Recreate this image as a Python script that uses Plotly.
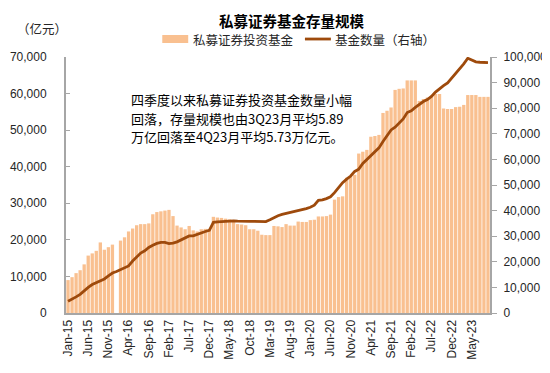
import plotly.graph_objects as go

months = ["Jan","Feb","Mar","Apr","May","Jun","Jul","Aug","Sep","Oct","Nov","Dec"]
categories = []
for y in range(15, 24):
    for m in months:
        categories.append(f"{m}-{y}")
categories = categories[:105]  # Jan-15 .. Sep-23

fund_scale = [
    9000, 9800, 10900, 11700, 13300, 15700, 16300, 17000, 19300, 17300, 18000, 18700,
    None, 19800, 20700, 22300, 23100, 24000, 24300, 24300, 24500, 27000, 27600, 27800,
    28000, 28200, 26500, 23900, 23400, 22900, 23800, 22600, 22300, 22900, 23000, 23000,
    26300, 26100, 26000, 25800, 25600, 25300, 24300, 24200, 24000, 22900, 22900, 22500,
    21400, 21300, 21300, 23800, 23700, 23500, 24300, 23900, 23900, 25000, 24900, 24900,
    25400, 25500, 26400, 26400, 26500, 26900, 31000, 31700, 31900, 37000, 37400, 37800,
    43600, 44100, 44600, 48200, 48400, 48700, 54700, 55300, 56200, 61000, 61300, 61400,
    63600, 63600, 63600, 58000, 58500, 58900, 59300, 59900, 59900, 55900, 55800, 55800,
    56300, 56400, 56900, 59600, 59600, 59600, 59100, 59100, 59100,
]

fund_count = [
    4600, 5300, 6300, 7300, 8700, 10000, 11100, 11800, 12300, 13300, 14500, 15600,
    16200, 16900, 17400, 18400, 20300, 22000, 23400, 24300, 25600, 26500, 27200, 27550,
    27550, 27100, 27300, 27800, 28600, 29500, 30100, 30150, 30800, 31400, 31850, 32300,
    35400, 35600, 35750, 35850, 35900, 36000, 35850, 35750, 35750, 35800, 35800, 35700,
    35600, 35700, 36400, 37300, 38000, 38500, 38900, 39100, 39500, 39800, 40300, 40800,
    41300, 42100, 44000, 44200, 44700, 45400, 47000, 49200, 50900, 52300, 53500, 55300,
    56200, 58400, 60000, 61700, 63000, 64500, 67000, 69500, 71500, 72600, 74300, 75800,
    78300, 79000, 80300, 81600, 82600, 83400, 84600, 86300, 87700, 88800, 89900, 91700,
    93500, 95400, 97300, 99500, 98700, 98100, 97950, 97900, 97800,
]

tick_labels = categories[::5]

left_ticks = [0, 10000, 20000, 30000, 40000, 50000, 60000, 70000]
right_ticks = [0, 10000, 20000, 30000, 40000, 50000, 60000, 70000, 80000, 90000, 100000]

series_names = ["私募证券投资基金", "基金数量（右轴）"]
title_text = "私募证券基金存量规模"
unit_text = "（亿元）"
note_lines = [
    "四季度以来私募证券投资基金数量小幅",
    "回落，存量规模也由3Q23月平均5.89",
    "万亿回落至4Q23月平均5.73万亿元。",
]

FONT = "Liberation Sans, Arial, Noto Sans CJK SC, sans-serif"
CJK = "Noto Sans CJK SC, Liberation Sans, sans-serif"
AX = "#A6A6A6"
TXT = "#262626"
BAR_C = "#F9C090"
LINE_C = "#9E4A0C"

fig = go.Figure()
fig.add_trace(go.Bar(
    x=categories, y=fund_scale, name=series_names[0],
    marker=dict(color=BAR_C, line=dict(width=0)),
    yaxis="y", showlegend=False,
))
fig.add_trace(go.Scatter(
    x=categories, y=fund_count, name=series_names[1], mode="lines",
    line=dict(color=LINE_C, width=2.8),
    yaxis="y2", showlegend=False,
))

# The page body has an 8px margin, so the figure is drawn 8px in from the
# top-left of the window; lay out in window pixels and convert.
OFF = 8
W, H = 550 - OFF, 373 - OFF
PL, PR, PT, PB = 65.5, 490.5, 57, 313.3   # plot area in window pixels
L, R, T, B = PL - OFF, W - (PR - OFF), PT - OFF, H - (PB - OFF)
pw = W - L - R
ph = H - T - B

def px(x):
    return (x - OFF - L) / pw

def py(y):
    return 1 - (y - OFF - T) / ph

LEG_Y = 39
annotations = [
    dict(text=f"<b>{title_text}</b>", xref="paper", yref="paper",
         x=px(292), y=py(8.2), xanchor="center", yanchor="top",
         showarrow=False, font=dict(family=CJK, size=14.5, color="#000000")),
    dict(text=unit_text, xref="paper", yref="paper",
         x=px(41), y=py(28), xanchor="center", yanchor="middle",
         showarrow=False, font=dict(family=CJK, size=12.5, color=TXT)),
    dict(text=series_names[0], xref="paper", yref="paper",
         x=px(191), y=py(LEG_Y), xanchor="left", yanchor="middle",
         showarrow=False, font=dict(family=CJK, size=12.5, color=TXT)),
    dict(text=series_names[1], xref="paper", yref="paper",
         x=px(333), y=py(LEG_Y), xanchor="left", yanchor="middle",
         showarrow=False, font=dict(family=CJK, size=12.5, color=TXT)),
]
for k, line in enumerate(note_lines):
    annotations.append(dict(
        text=line, xref="paper", yref="paper",
        x=px(129), y=py(100 + 18.5 * k), xanchor="left", yanchor="middle",
        showarrow=False, font=dict(family=CJK, size=13, color="#000000"),
    ))

shapes = [
    dict(type="rect", xref="paper", yref="paper",
         x0=px(162), x1=px(188), y0=py(LEG_Y + 4), y1=py(LEG_Y - 4),
         fillcolor=BAR_C, line=dict(width=0)),
    dict(type="line", xref="paper", yref="paper",
         x0=px(305), x1=px(331), y0=py(LEG_Y), y1=py(LEG_Y),
         line=dict(color=LINE_C, width=2.8)),
]

fig.update_layout(
    width=W, height=H,
    margin=dict(l=L, r=R, t=T, b=B, pad=0, autoexpand=False),
    paper_bgcolor="white", plot_bgcolor="white",
    bargap=0.18,
    font=dict(family=FONT, size=12, color=TXT),
    showlegend=False,
    xaxis=dict(
        type="category", categoryorder="array", categoryarray=categories,
        range=[-0.5, len(categories) - 0.5],
        tickmode="array", tickvals=tick_labels, ticktext=tick_labels,
        tickangle=-90, tickfont=dict(size=12, family=FONT, color=TXT),
        showline=True, linecolor=AX, linewidth=2,
        ticks="", showgrid=False, zeroline=False, automargin=False,
    ),
    yaxis=dict(
        range=[0, 70000], tickmode="array", tickvals=left_ticks,
        ticktext=[f"{v:,}" for v in left_ticks],
        tickfont=dict(size=12, family=FONT, color=TXT),
        showline=True, linecolor=AX, linewidth=2,
        ticks="inside", ticklen=4, tickcolor=AX, tickwidth=1,
        showgrid=False, zeroline=False, ticklabelstandoff=15, automargin=False,
    ),
    yaxis2=dict(
        range=[0, 100000], overlaying="y", side="right",
        tickmode="array", tickvals=right_ticks,
        ticktext=[f"{v:,}" for v in right_ticks],
        tickfont=dict(size=12, family=FONT, color=TXT),
        showline=True, linecolor=AX, linewidth=2,
        ticks="outside", ticklen=5, tickcolor=AX, tickwidth=1,
        showgrid=False, zeroline=False, ticklabelstandoff=4, automargin=False,
    ),
    annotations=annotations,
    shapes=shapes,
)

fig.write_html("out.html")
